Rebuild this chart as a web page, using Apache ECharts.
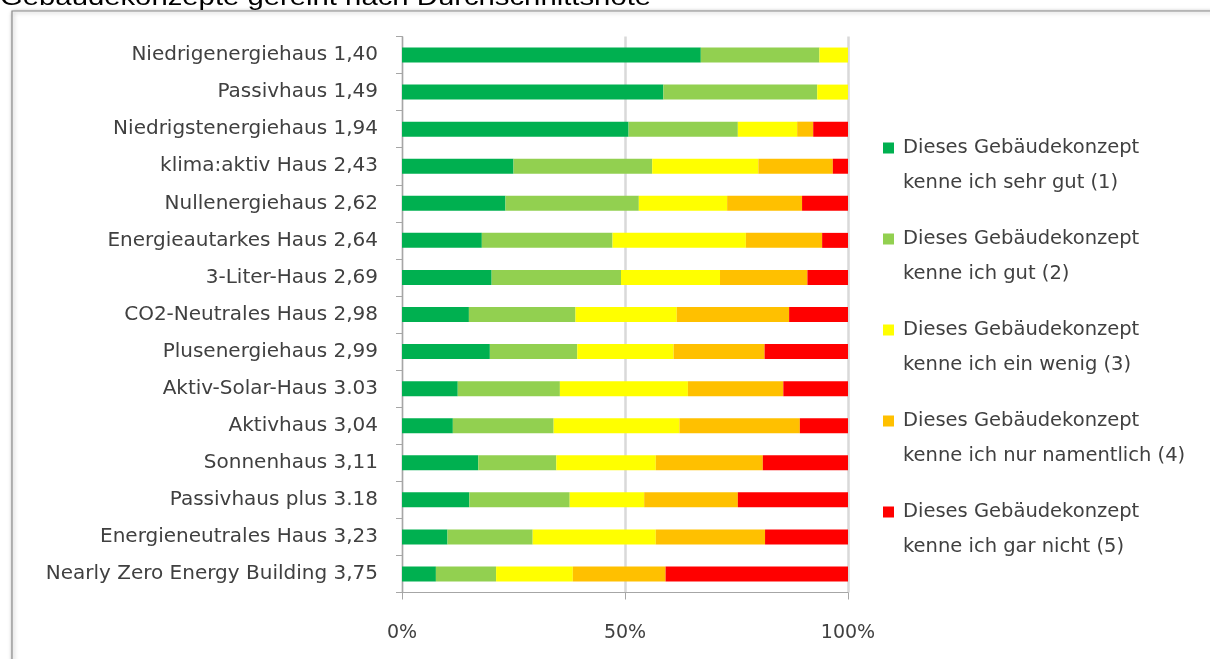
<!DOCTYPE html>
<html>
<head>
<meta charset="utf-8">
<script src="https://cdn.jsdelivr.net/npm/echarts@6/dist/echarts.min.js"></script>
<style>
html,body{margin:0;padding:0;background:#fff;}
#chart{width:1210px;height:659px;}
</style>
</head>
<body>
<div id="chart"></div>
<script>
const categories = [
  "Niedrigenergiehaus 1,40",
  "Passivhaus 1,49",
  "Niedrigstenergiehaus 1,94",
  "klima:aktiv Haus 2,43",
  "Nullenergiehaus 2,62",
  "Energieautarkes Haus 2,64",
  "3-Liter-Haus 2,69",
  "CO2-Neutrales Haus 2,98",
  "Plusenergiehaus 2,99",
  "Aktiv-Solar-Haus 3.03",
  "Aktivhaus 3,04",
  "Sonnenhaus 3,11",
  "Passivhaus plus 3.18",
  "Energieneutrales Haus 3,23",
  "Nearly Zero Energy Building 3,75"
];
const seriesNames = [
  "Dieses Gebäudekonzept\nkenne ich sehr gut (1)",
  "Dieses Gebäudekonzept\nkenne ich gut (2)",
  "Dieses Gebäudekonzept\nkenne ich ein wenig (3)",
  "Dieses Gebäudekonzept\nkenne ich nur namentlich (4)",
  "Dieses Gebäudekonzept\nkenne ich gar nicht (5)"
];
const sehrGut     = [67.0, 58.6, 50.8, 25.0, 23.2, 17.9, 20.1, 15.0, 19.7, 12.5, 11.4, 17.1, 15.1, 10.2, 7.6];
const gut         = [26.6, 34.5, 24.5, 31.1, 29.9, 29.3, 29.0, 23.9, 19.6, 22.9, 22.6, 17.5, 22.5, 19.1, 13.5];
const einWenig    = [6.4, 6.9, 13.3, 23.8, 19.8, 29.9, 22.2, 22.7, 21.6, 28.7, 28.2, 22.3, 16.7, 27.6, 17.2];
const namentlich  = [0, 0, 3.6, 16.7, 16.8, 17.1, 19.6, 25.2, 20.4, 21.4, 27.0, 24.0, 21.0, 24.5, 20.8];
const garNicht    = [0, 0, 7.8, 3.4, 10.3, 5.8, 9.1, 13.2, 18.7, 14.5, 10.8, 19.1, 24.7, 18.6, 40.9];
const xTicks = ["0%", "50%", "100%"];

const colors = ["#00b050", "#92d050", "#ffff00", "#ffc000", "#ff0000"];
const values = [sehrGut, gut, einWenig, namentlich, garNicht];

const chart = echarts.init(document.getElementById('chart'));
const FONT = "DejaVu Sans";
const legendIcon = 'path://M0,0L0.01,0M0,12L11,12L11,23L0,23ZM15,70L15.01,70';
chart.setOption({
  animation: false,
  color: colors,
  graphic: [
    {
      type: 'rect',
      shape: { x: 12, y: 11, width: 1220, height: 680 },
      style: { fill: '#fff', stroke: '#8c8c8c', lineWidth: 1.2, shadowBlur: 4, shadowColor: 'rgba(0,0,0,0.35)', shadowOffsetX: 1, shadowOffsetY: 1 },
      z: -10
    },
    {
      type: 'text',
      x: 0,
      y: -14,
      scaleX: 1.22,
      style: { text: "Gebäudekonzepte gereiht nach Durchschnittsnote", font: "24px 'Liberation Sans'", fill: '#000', verticalAlign: 'top' },
      z: 10
    }
  ],
  grid: { left: 402, right: 362, top: 36.5, height: 556 },
  legend: {
    orient: 'vertical',
    left: 878,
    top: 125.5,
    itemWidth: 15,
    itemHeight: 70,
    itemGap: 21,
    icon: legendIcon,
    data: seriesNames,
    textStyle: { fontFamily: FONT, fontSize: 19.5, color: '#404040', lineHeight: 35 }
  },
  xAxis: {
    type: 'value',
    min: 0,
    max: 100,
    interval: 50,
    axisLine: { show: true, lineStyle: { color: '#a6a6a6', width: 1 } },
    axisTick: { show: true, length: 7, lineStyle: { color: '#a6a6a6' } },
    splitLine: { show: true, lineStyle: { color: '#d9d9d9', width: 2.5 } },
    axisLabel: {
      margin: 31,
      fontFamily: FONT, fontSize: 19, color: '#404040',
      formatter: function (v) { return xTicks[Math.round(v / 50)]; }
    }
  },
  yAxis: {
    type: 'category',
    inverse: true,
    data: categories,
    axisLine: { show: true, lineStyle: { color: '#a6a6a6', width: 1 } },
    axisTick: { show: true, length: 6, lineStyle: { color: '#a6a6a6' } },
    axisLabel: { margin: 24, fontFamily: FONT, fontSize: 20, color: '#404040' }
  },
  series: values.map(function (arr, i) {
    return {
      name: seriesNames[i],
      type: 'bar',
      stack: 'total',
      barWidth: 15,
      data: arr,
      itemStyle: { color: colors[i] }
    };
  })
});
</script>
</body>
</html>
